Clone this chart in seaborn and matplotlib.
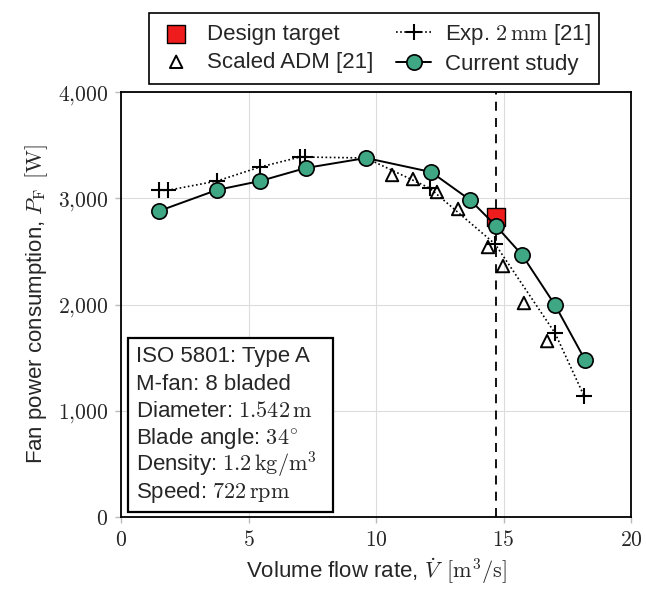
import pandas as pd
import matplotlib
matplotlib.use("Agg")
import matplotlib.pyplot as plt
import seaborn as sns
from matplotlib.ticker import FuncFormatter
from matplotlib.patches import Rectangle

# Current study (CFD)
cur_q = [1.49, 3.76, 5.45, 7.25, 9.61, 12.16, 13.69, 14.71, 15.73, 17.02, 18.20]
cur_p = [2880, 3078, 3162, 3285, 3379, 3247, 2984, 2739, 2466, 1995, 1478]

# Experiment, 2 mm tip clearance [21]
exp_q = [1.49, 1.84, 3.76, 5.45, 7.02, 7.22, 9.61, 12.10, 14.67, 17.02, 18.16]
exp_p = [3075, 3075, 3162, 3294, 3388, 3388, 3379, 3096, 2569, 1731, 1139]

# Scaled ADM [21]
adm_q = [10.63, 11.45, 12.39, 13.22, 14.39, 14.98, 15.80, 16.71]
adm_p = [3219, 3181, 3059, 2899, 2541, 2362, 2014, 1656]

# Design point
design_q = [14.72]
design_p = [2824]

info_lines = ["ISO 5801: Type A",
              "M-fan: 8 bladed",
              r"Diameter: $1.542\,\mathrm{m}$",
              r"Blade angle: $34^{\circ}$",
              r"Density: $1.2\,\mathrm{kg/m^3}$",
              r"Speed: $722\,\mathrm{rpm}$"]

cur = pd.DataFrame({"q": cur_q, "p": cur_p})
exp = pd.DataFrame({"q": exp_q, "p": exp_p})
adm = pd.DataFrame({"q": adm_q, "p": adm_p})
des = pd.DataFrame({"q": design_q, "p": design_p})

sns.set_style("whitegrid", {"grid.color": "#dcdcdc", "axes.edgecolor": "black"})
plt.rcParams["font.family"] = ["Liberation Sans", "DejaVu Sans"]
plt.rcParams["mathtext.fontset"] = "cm"

fig = plt.figure(figsize=(6.46, 5.94), dpi=100)
ax = fig.add_axes([0.1873, 0.1296, 0.7895, 0.7155])

ax.axvline(design_q[0], color="black", linestyle=(0, (5, 4)), linewidth=1.3, zorder=2)

sns.lineplot(data=exp, x="q", y="p", ax=ax, sort=False, color="black", linestyle=(0, (1, 1.5)),
             linewidth=1.2, marker="+", markersize=12, markeredgewidth=1.5,
             markeredgecolor="black", label=r"Exp. $2\,\mathrm{mm}$ [21]", zorder=3)
sns.scatterplot(data=adm, x="q", y="p", ax=ax, marker="^", s=80, facecolor="none",
                edgecolor="black", linewidth=1.4, label="Scaled ADM [21]", zorder=4)
sns.scatterplot(data=des, x="q", y="p", ax=ax, marker="s", s=150, color="#ee1c1c",
                edgecolor="black", linewidth=1.0, label="Design target", zorder=5)
sns.lineplot(data=cur, x="q", y="p", ax=ax, sort=False, color="black", linewidth=1.4,
             marker="o", markersize=11, markerfacecolor="#3fa784", markeredgecolor="black",
             markeredgewidth=1.2, label="Current study", zorder=6)

ax.set_xlim(0, 20)
ax.set_ylim(0, 4000)
ax.set_xticks([0, 5, 10, 15, 20])
ax.set_yticks([0, 1000, 2000, 3000, 4000])
ax.xaxis.set_major_formatter(FuncFormatter(lambda v, _: f"${v:.0f}$"))
ax.yaxis.set_major_formatter(FuncFormatter(lambda v, _: "$" + f"{v:,.0f}".replace(",", "{,}") + "$"))
ax.tick_params(labelsize=15.5, length=4, width=1, color="#bbbbbb", pad=5, direction="out",
               bottom=True, left=True)
for s in ax.spines.values():
    s.set_linewidth(1.3)
    s.set_color("black")

ax.set_xlabel(r"Volume flow rate, $\dot{V}$ $\,[\mathrm{m}^3/\mathrm{s}]$", fontsize=16, labelpad=4)
ax.set_ylabel(r"Fan power consumption, $P_\mathrm{F}$ $\,[\mathrm{W}]$", fontsize=16, labelpad=6)

handles, labels = ax.get_legend_handles_labels()
order = [labels.index("Design target"), labels.index("Scaled ADM [21]"),
         labels.index(r"Exp. $2\,\mathrm{mm}$ [21]"), labels.index("Current study")]
leg = ax.legend([handles[i] for i in order], [labels[i] for i in order], ncol=2,
                loc="lower center", bbox_to_anchor=(0.497, 1.02), fontsize=16,
                frameon=True, fancybox=False, edgecolor="black", framealpha=1,
                handlelength=1.6, columnspacing=1.0, handletextpad=0.6,
                borderpad=0.4, labelspacing=0.3, borderaxespad=0)
leg.get_frame().set_linewidth(1.2)

# info box in the lower left corner
ax.add_patch(Rectangle((0.013, 0.0125), 0.402, 0.409, transform=ax.transAxes,
                       facecolor="white", edgecolor="black", linewidth=1.6, zorder=9))
for i, t in enumerate(info_lines):
    ax.text(0.03, 0.364 - i * 0.064, t, transform=ax.transAxes, fontsize=16,
            ha="left", va="baseline", zorder=10)

fig.savefig("out.png", dpi=100)
